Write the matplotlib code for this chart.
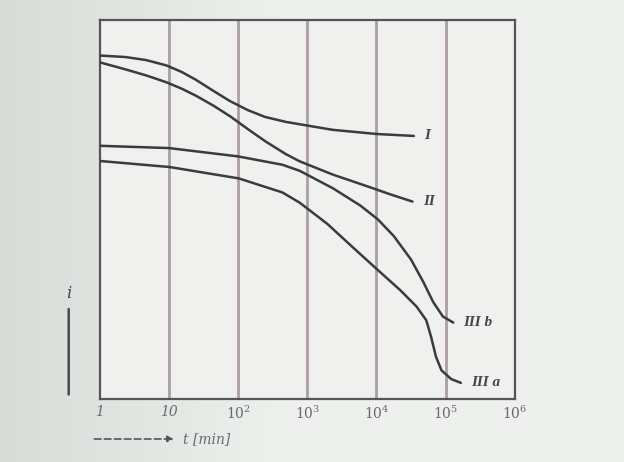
import numpy as np
import matplotlib
matplotlib.use("Agg")
import matplotlib.pyplot as plt

plt.rcParams["mathtext.fontset"] = "dejavuserif"

# Curves read as (log10 t, relative i)
logt_I = [0.0, 0.37, 0.67, 0.96, 1.18, 1.38, 1.64, 1.88, 2.14, 2.39, 2.69, 2.98, 3.37, 4.01, 4.54]
i_I = [0.906, 0.902, 0.894, 0.880, 0.863, 0.843, 0.813, 0.786, 0.762, 0.744, 0.731, 0.722,
       0.710, 0.699, 0.694]

logt_II = [0.0, 0.38, 0.68, 0.97, 1.19, 1.39, 1.65, 1.89, 2.14, 2.40, 2.69, 2.89, 3.37, 3.87,
           4.20, 4.52]
i_II = [0.888, 0.869, 0.853, 0.835, 0.818, 0.800, 0.773, 0.745, 0.712, 0.679, 0.646, 0.627,
        0.592, 0.561, 0.540, 0.521]

logt_IIIb = [0.0, 1.00, 2.00, 2.64, 2.89, 3.37, 3.77, 4.02, 4.25, 4.50, 4.68, 4.82, 4.96, 5.11]
i_IIIb = [0.668, 0.662, 0.640, 0.618, 0.602, 0.556, 0.510, 0.474, 0.430, 0.368, 0.308, 0.256,
          0.218, 0.202]

logt_IIIa = [0.0, 1.01, 2.01, 2.64, 2.89, 3.29, 3.63, 4.01, 4.34, 4.58, 4.72, 4.79, 4.86, 4.94,
             5.08, 5.22]
i_IIIa = [0.628, 0.612, 0.582, 0.545, 0.518, 0.462, 0.405, 0.342, 0.288, 0.244, 0.208, 0.164,
          0.112, 0.076, 0.053, 0.043]

curve_labels = ["I", "II", "III b", "III a"]
tick_labels = ["1", "10", "$10^2$", "$10^3$", "$10^4$", "$10^5$", "$10^6$"]

ink = "#3b3b3b"
grey_text = "#6a6a6a"

fig = plt.figure(figsize=(6.24, 4.62), dpi=100)
fig.patch.set_facecolor("#e9ebe8")

# paper tint: greyer at the left, brighter towards the centre
w = 624
xx = np.linspace(0, 1, w)[None, :] * np.ones((10, 1))
base = 0.86 + 0.085 * np.clip(xx * 2.2, 0, 1)
bg = np.clip(np.dstack([base * 0.985, base, base * 0.985]), 0, 1)
bg_ax = fig.add_axes([0, 0, 1, 1], zorder=-5)
bg_ax.imshow(bg, aspect="auto", extent=(0, 1, 0, 1))
bg_ax.set_axis_off()

ax = fig.add_axes([0.160, 0.136, 0.665, 0.821], zorder=1)
ax.set_facecolor("#f0f0ee")
ax.set_xscale("log")
ax.set_xlim(1, 1e6)
ax.set_ylim(0, 1)

decades = 10.0 ** np.arange(0, 7)
for d in decades[1:-1]:
    ax.axvline(d, color="#ab9fa3", lw=2.0, zorder=1)

series = [(logt_I, i_I), (logt_II, i_II), (logt_IIIb, i_IIIb), (logt_IIIa, i_IIIa)]
for lt, iv in series:
    ax.plot(10.0 ** np.array(lt), iv, color=ink, lw=1.8, zorder=3,
            solid_capstyle="round", solid_joinstyle="round")

for (lt, iv), lab in zip(series, curve_labels):
    ax.text(10.0 ** (lt[-1] + 0.15), iv[-1], lab, family="Liberation Serif",
            style="italic", fontsize=11, color="#444444", va="center", ha="left",
            weight="bold")

for sp in ax.spines.values():
    sp.set_color("#555555")
    sp.set_linewidth(1.6)

ax.set_yticks([])
ax.set_xticks(decades)
ax.set_xticklabels(tick_labels)
ax.minorticks_off()
ax.tick_params(axis="x", length=0, pad=4, labelsize=10, labelcolor=grey_text)
for t in ax.get_xticklabels():
    t.set_family("DejaVu Serif")
    t.set_style("italic")

# ordinate: upward "i"
ax.annotate("", xy=(-0.075, 0.245), xytext=(-0.075, 0.005), xycoords="axes fraction",
            arrowprops=dict(arrowstyle="-", color="#4a4a4a", lw=1.8))
ax.text(-0.075, 0.255, "i", transform=ax.transAxes, ha="center", va="bottom",
        fontsize=12, color="#4a4a4a", family="DejaVu Serif", style="italic")

# abscissa: dashed arrow and t [min]
ax.annotate("", xy=(0.185, -0.105), xytext=(-0.02, -0.105), xycoords="axes fraction",
            arrowprops=dict(arrowstyle="-|>", color="#555555", lw=1.2,
                            linestyle=(0, (4, 2)), mutation_scale=9))
ax.text(0.20, -0.105, "t [min]", transform=ax.transAxes, ha="left", va="center",
        fontsize=10, color=grey_text, family="DejaVu Serif", style="italic")

fig.savefig("out.png", dpi=100, facecolor=fig.get_facecolor())
